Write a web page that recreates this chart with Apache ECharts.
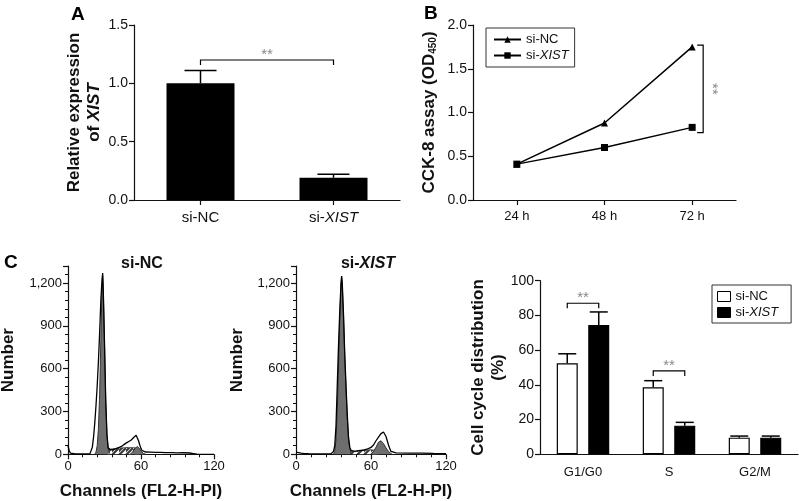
<!DOCTYPE html>
<html>
<head>
<meta charset="utf-8">
<script src="https://cdn.jsdelivr.net/npm/echarts@6/dist/echarts.min.js"></script>
<style>
  html, body { margin: 0; padding: 0; background: #fff; }
  #chart { width: 799px; height: 501px; }
</style>
</head>
<body>
<div id="chart"></div>
<script>
// ── Panel A: relative expression ──
const expCats = ['si-NC', 'si-XIST'];
const expVals = [1.0, 0.19];
const expErrTop = [1.11, 0.22];
const sigA = [[0, 1, 1.2]]; // from cat, to cat, bracket level

// ── Panel B: CCK-8 ──
const timeCats = ['24 h', '48 h', '72 h'];
const cckNC = [0.41, 0.88, 1.75];
const cckXIST = [0.41, 0.60, 0.83];
const sigB = [[2, 0.77, 1.77]]; // at cat, low, high

// ── Panel C: flow histograms [channel, count] ──
const ncTotal = [[0,60],[1,25],[2,8],[3,3],[6,2],[12,2],[18,3],[19,15],[20,50],[21,120],[22,220],[23,340],[24,480],[25,650],[26,850],[27,1080],[28,1230],[28.5,1270],[29,1150],[30,780],[31,380],[32,140],[33,45],[35,32],[38,35],[40,42],[42,48],[44,55],[46,68],[48,80],[50,90],[52,100],[54,118],[56,133],[57,120],[58,95],[59,65],[60,40],[61,25],[62,20],[64,16],[68,15],[72,14],[76,13],[80,12],[85,12],[90,10],[95,11],[100,9],[103,5],[106,1],[120,0]];
const ncG1 = [[22,0],[23,15],[24,60],[25,180],[26,420],[27,800],[28,1180],[28.5,1250],[29,1150],[30,780],[31,380],[32,140],[33,40],[34,8],[35,0]];
const ncS = [[30,0],[32,25],[34,35],[38,40],[44,45],[50,48],[56,45],[58,35],[60,15],[62,0]];
const ncG2 = [[51,0],[53,15],[55,40],[57,55],[58,50],[59,38],[60,22],[62,6],[64,0]];

const xsTotal = [[0,15],[2,12],[4,8],[6,6],[10,5],[20,3],[28,4],[29,8],[30,20],[31,60],[32,200],[33,480],[34,760],[35,1000],[36,1200],[36.5,1250],[37,1200],[38,980],[39,700],[40,480],[41,280],[42,120],[43,50],[44,28],[46,22],[48,22],[50,25],[52,28],[54,30],[56,35],[58,40],[60,48],[62,65],[64,95],[66,120],[68,145],[70,156],[71,150],[72,125],[73,95],[74,65],[75,40],[76,20],[77,12],[80,10],[90,8],[100,8],[110,6],[120,5]];
const xsG1 = [[30,0],[31,20],[32,100],[33,300],[34,620],[35,950],[36,1180],[36.5,1240],[37,1190],[38,970],[39,690],[40,460],[41,260],[42,110],[43,40],[44,10],[45,0]];
const xsS = [[42,0],[44,18],[50,22],[56,28],[60,32],[63,28],[65,12],[67,0]];
const xsG2 = [[60,0],[62,20],[64,50],[66,85],[67,98],[68,95],[70,75],[72,45],[74,20],[76,5],[77,0]];

// ── Panel C: cell cycle distribution ──
const phaseCats = ['G1/G0', 'S', 'G2/M'];
const phaseNC = [52.4, 38.6, 9.6];
const phaseNCErrTop = [57.9, 42.4, 10.5];
const phaseXIST = [74.5, 16.5, 9.6];
const phaseXISTErrTop = [82, 18.4, 10.5];
const sigC = [[0, 87], [1, 48]]; // cat, bracket level

const FONT = 'Liberation Sans, Arial, sans-serif';
const BAR_C = 21, OFF_C = 15.75;

const chart = echarts.init(document.getElementById('chart'));

// hatch pattern for S phase
const hatch = document.createElement('canvas');
hatch.width = 7; hatch.height = 7;
(function () {
  const ctx = hatch.getContext('2d');
  ctx.fillStyle = '#fff'; ctx.fillRect(0, 0, 7, 7);
  ctx.strokeStyle = '#3a3a3a'; ctx.lineWidth = 2.2;
  ctx.beginPath();
  ctx.moveTo(-2, 5); ctx.lineTo(5, -2);
  ctx.moveTo(0, 7); ctx.lineTo(7, 0);
  ctx.moveTo(5, 9); ctx.lineTo(9, 5);
  ctx.stroke();
})();

const rich = {
  n: { fontFamily: FONT, fontSize: 13, color: '#111' },
  i: { fontFamily: FONT, fontSize: 13, color: '#111', fontStyle: 'italic' },
  b: { fontFamily: FONT, fontSize: 17, fontWeight: 'bold', color: '#111', lineHeight: 20 },
  bi: { fontFamily: FONT, fontSize: 17, fontWeight: 'bold', fontStyle: 'italic', color: '#111', lineHeight: 20 },
  sub: { fontFamily: FONT, fontSize: 10, fontWeight: 'bold', color: '#111', padding: [8, 0, 0, 0] },
};
const fmtName = n => n.indexOf('XIST') >= 0 ? '{n|si-}{i|XIST}' : '{n|' + n + '}';
const legendNames = { cckNC: '{n|si-NC}', cckXIST: '{n|si-}{i|XIST}', ccNC: '{n|si-NC}', ccXIST: '{n|si-}{i|XIST}' };

function valAxis(grid, min, max, interval, extra) {
  return Object.assign({
    type: 'value', gridIndex: grid, min: min, max: max, interval: interval,
    axisLine: { show: true, lineStyle: { color: '#111', width: 1.2 } },
    axisTick: { show: true, length: 5, lineStyle: { color: '#111', width: 1.2 } },
    axisLabel: { color: '#111', fontSize: 13, fontFamily: FONT, margin: 6 },
    splitLine: { show: false },
    nameLocation: 'middle', nameRotate: 90,
    nameTextStyle: { rich: rich },
  }, extra || {});
}
function catAxis(grid, data, extra) {
  return Object.assign({
    type: 'category', gridIndex: grid, data: data,
    axisLine: { show: true, lineStyle: { color: '#111', width: 1.2 } },
    axisTick: { show: true, alignWithLabel: true, length: 5, lineStyle: { color: '#111', width: 1.2 } },
    axisLabel: { fontFamily: FONT, margin: 10, formatter: fmtName, rich: rich },
    splitLine: { show: false },
  }, extra || {});
}

function errorBars(xi, yi, cats, vals, tops, off, cap) {
  return {
    type: 'custom', xAxisIndex: xi, yAxisIndex: yi, z: 5,
    encode: { x: 0, y: [1, 2] },
    data: cats.map((c, k) => [k, vals[k], tops[k]]),
    renderItem: function (params, api) {
      const p0 = api.coord([api.value(0), api.value(1)]);
      const p1 = api.coord([api.value(0), api.value(2)]);
      const x = p0[0] + off;
      return {
        type: 'group', children: [
          { type: 'line', shape: { x1: x, y1: p0[1], x2: x, y2: p1[1] }, style: { stroke: '#000', lineWidth: 1.5 } },
          { type: 'line', shape: { x1: x - cap, y1: p1[1], x2: x + cap, y2: p1[1] }, style: { stroke: '#000', lineWidth: 1.5 } },
        ],
      };
    },
  };
}

function starText(x, y, rot) {
  return {
    type: 'text', x: x, y: y, rotation: rot || 0,
    style: { text: '**', x: 0, y: 0, fill: '#888', font: '15px ' + FONT, align: 'center', verticalAlign: 'middle', textAlign: 'center', textVerticalAlign: 'middle' },
  };
}

function histSeries(xi, total, g1, s, g2) {
  const base = { type: 'line', xAxisIndex: xi, yAxisIndex: xi, showSymbol: false, symbol: 'none', smooth: false, silent: true };
  return [
    Object.assign({}, base, { data: s, z: 2, lineStyle: { color: '#333', width: 0.8 }, areaStyle: { color: { image: hatch, repeat: 'repeat' }, opacity: 1 } }),
    Object.assign({}, base, { data: g1, z: 3, lineStyle: { color: '#333', width: 1 }, areaStyle: { color: '#6e6e6e', opacity: 1 } }),
    Object.assign({}, base, { data: g2, z: 3, lineStyle: { color: '#333', width: 1 }, areaStyle: { color: '#6e6e6e', opacity: 1 } }),
    Object.assign({}, base, { data: total, z: 4, lineStyle: { color: '#000', width: 1.3 } }),
  ];
}

const histY = (grid, gap) => valAxis(grid, 0, 1320, 300, {
  name: '{b|Number}', nameGap: gap,
  axisLabel: { color: '#111', fontSize: 13, fontFamily: FONT, margin: 6, showMaxLabel: false, formatter: v => v >= 1000 ? Math.floor(v / 1000) + ',' + String(v % 1000).padStart(3, '0') : String(v) },
  minorTick: { show: true, splitNumber: 5, length: 3, lineStyle: { color: '#111', width: 1 } },
});
const histX = grid => valAxis(grid, 0, 120, 60, {
  nameRotate: 0, name: '{b|Channels (FL2-H-PI)}', nameGap: 27,
  minorTick: { show: true, splitNumber: 5, length: 3, lineStyle: { color: '#111', width: 1 } },
});

chart.setOption({
  backgroundColor: '#fff',
  animation: false,
  title: [
    { text: 'A', left: 66, top: 0, textStyle: { fontFamily: FONT, fontSize: 19, fontWeight: 'bold', color: '#000' } },
    { text: 'B', left: 419, top: -1, textStyle: { fontFamily: FONT, fontSize: 19, fontWeight: 'bold', color: '#000' } },
    { text: 'C', left: -1, top: 248, textStyle: { fontFamily: FONT, fontSize: 19, fontWeight: 'bold', color: '#000' } },
    { text: 'si-NC', left: 137, top: 251, textAlign: 'center', textStyle: { fontFamily: FONT, fontSize: 16, fontWeight: 'bold', color: '#111' } },
    { text: '{b|si-}{bi|XIST}', left: 363, top: 251, textAlign: 'center', textStyle: { rich: { b: { fontFamily: FONT, fontSize: 16, fontWeight: 'bold', color: '#111' }, bi: { fontFamily: FONT, fontSize: 16, fontWeight: 'bold', fontStyle: 'italic', color: '#111' } } } },
  ],
  legend: [
    {
      data: ['cckNC', 'cckXIST'], orient: 'vertical', left: 486, top: 28,
      borderColor: '#333', borderWidth: 1, padding: [5, 6, 5, 7], itemGap: 3,
      itemWidth: 27, itemHeight: 8, formatter: n => legendNames[n],
      textStyle: { rich: rich, fontSize: 13 },
    },
    {
      data: [
        { name: 'ccNC', itemStyle: { color: '#fff', borderColor: '#000', borderWidth: 1 } },
        { name: 'ccXIST', itemStyle: { color: '#000', borderColor: '#000', borderWidth: 1 } },
      ],
      orient: 'vertical', left: 712, top: 285,
      borderColor: '#333', borderWidth: 1, padding: [5, 13, 4, 5], itemGap: 3,
      itemWidth: 13, itemHeight: 10, icon: 'rect', formatter: n => legendNames[n],
      textStyle: { rich: rich, fontSize: 13 },
    },
  ],
  grid: [
    { left: 134, top: 25, width: 266, height: 175, containLabel: false, outerBoundsMode: 'none' },
    { left: 473, top: 25, width: 263, height: 175, containLabel: false, outerBoundsMode: 'none' },
    { left: 68, top: 266, width: 146, height: 188.3, containLabel: false, outerBoundsMode: 'none' },
    { left: 296, top: 266, width: 150, height: 188.3, containLabel: false, outerBoundsMode: 'none' },
    { left: 540, top: 280.7, width: 258, height: 173.6, containLabel: false, outerBoundsMode: 'none' },
  ],
  xAxis: [
    catAxis(0, expCats, { axisLabel: { fontFamily: FONT, margin: 10, formatter: fmtName, rich: { n: { fontFamily: FONT, fontSize: 15, color: '#111' }, i: { fontFamily: FONT, fontSize: 15, color: '#111', fontStyle: 'italic' } } } }),
    catAxis(1, timeCats, { axisLabel: { fontFamily: FONT, fontSize: 13, color: '#111', margin: 10 } }),
    histX(2),
    histX(3),
    catAxis(4, phaseCats, { axisTick: { show: false }, axisLabel: { fontFamily: FONT, fontSize: 13, color: '#111', margin: 12 } }),
  ],
  yAxis: [
    valAxis(0, 0, 1.5, 0.5, { name: '{b|Relative expression}\n{b|of }{bi|XIST}', nameGap: 30, axisLabel: { color: '#111', fontSize: 14, fontFamily: FONT, margin: 6, formatter: v => v.toFixed(1) } }),
    valAxis(1, 0, 2, 0.5, { name: '{b|CCK-8 assay (OD}{sub|450}{b|)}', nameGap: 34, axisLabel: { color: '#111', fontSize: 14, fontFamily: FONT, margin: 6, formatter: v => v.toFixed(1) } }),
    histY(2, 50),
    histY(3, 49),
    valAxis(4, 0, 100, 20, { name: '{b|Cell cycle distribution}\n{b|(%)}', nameGap: 32, axisLabel: { color: '#111', fontSize: 14, fontFamily: FONT, margin: 6 } }),
  ],
  series: [
    // A
    { type: 'bar', xAxisIndex: 0, yAxisIndex: 0, data: expVals, barWidth: 68, itemStyle: { color: '#000' }, z: 2 },
    errorBars(0, 0, expCats, expVals, expErrTop, 0, 16),
    {
      type: 'custom', xAxisIndex: 0, yAxisIndex: 0, z: 6, data: sigA,
      encode: { x: [0, 1], y: 2 },
      renderItem: function (params, api) {
        const a = api.coord([api.value(0), api.value(2)]);
        const b = api.coord([api.value(1), api.value(2)]);
        return { type: 'group', children: [
          { type: 'polyline', shape: { points: [[a[0], a[1] + 5], [a[0], a[1]], [b[0], b[1]], [b[0], b[1] + 5]] }, style: { stroke: '#000', fill: null, lineWidth: 1.2 } },
          starText((a[0] + b[0]) / 2, a[1] - 5),
        ] };
      },
    },
    // B
    { name: 'cckNC', type: 'line', xAxisIndex: 1, yAxisIndex: 1, data: cckNC, symbol: 'triangle', symbolSize: 7, color: '#000', lineStyle: { color: '#000', width: 1.5 }, itemStyle: { color: '#000' }, z: 3 },
    { name: 'cckXIST', type: 'line', xAxisIndex: 1, yAxisIndex: 1, data: cckXIST, symbol: 'rect', symbolSize: 7, color: '#000', lineStyle: { color: '#000', width: 1.5 }, itemStyle: { color: '#000' }, z: 3 },
    {
      type: 'custom', xAxisIndex: 1, yAxisIndex: 1, z: 6, data: sigB,
      encode: { x: 0, y: [1, 2] },
      renderItem: function (params, api) {
        const lo = api.coord([api.value(0), api.value(1)]);
        const hi = api.coord([api.value(0), api.value(2)]);
        const x = lo[0] + 11;
        return { type: 'group', children: [
          { type: 'polyline', shape: { points: [[x - 6, hi[1]], [x, hi[1]], [x, lo[1]], [x - 6, lo[1]]] }, style: { stroke: '#000', fill: null, lineWidth: 1.2 } },
          starText(x + 9, (lo[1] + hi[1]) / 2, -Math.PI / 2),
        ] };
      },
    },
    // C histograms
    ...histSeries(2, ncTotal, ncG1, ncS, ncG2),
    ...histSeries(3, xsTotal, xsG1, xsS, xsG2),
    // C cell cycle bars
    { name: 'ccNC', type: 'bar', xAxisIndex: 4, yAxisIndex: 4, data: phaseNC, barWidth: BAR_C, barGap: '50%', itemStyle: { color: '#fff', borderColor: '#000', borderWidth: 1.2 } },
    { name: 'ccXIST', type: 'bar', xAxisIndex: 4, yAxisIndex: 4, data: phaseXIST, barWidth: BAR_C, barGap: '50%', itemStyle: { color: '#000', borderColor: '#000', borderWidth: 1.2 } },
    errorBars(4, 4, phaseCats, phaseNC, phaseNCErrTop, -OFF_C, 9),
    errorBars(4, 4, phaseCats, phaseXIST, phaseXISTErrTop, OFF_C, 9),
    {
      type: 'custom', xAxisIndex: 4, yAxisIndex: 4, z: 6, data: sigC,
      encode: { x: 0, y: 1 },
      renderItem: function (params, api) {
        const c = api.coord([api.value(0), api.value(1)]);
        const x0 = c[0] - OFF_C, x1 = c[0] + OFF_C;
        return { type: 'group', children: [
          { type: 'polyline', shape: { points: [[x0, c[1] + 5], [x0, c[1]], [x1, c[1]], [x1, c[1] + 5]] }, style: { stroke: '#000', fill: null, lineWidth: 1.2 } },
          starText(c[0], c[1] - 5),
        ] };
      },
    },
  ],
});
</script>
</body>
</html>
